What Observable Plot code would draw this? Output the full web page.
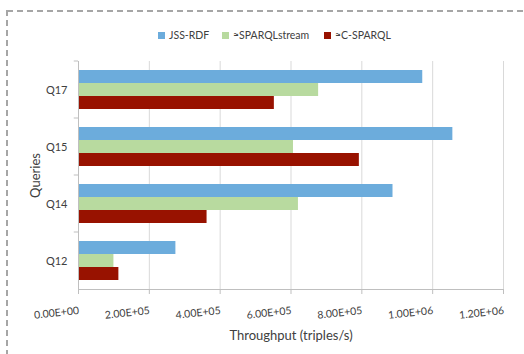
<!DOCTYPE html>
<html>
<head>
<meta charset="utf-8">
<script src="https://cdn.jsdelivr.net/npm/d3@7"></script>
<script src="https://cdn.jsdelivr.net/npm/@observablehq/plot@0.6"></script>
<style>
  html, body { margin: 0; padding: 0; background: #fff; }
  #wrap { position: relative; width: 524px; height: 354px; overflow: hidden; font-family: Lato, "Open Sans", sans-serif; color: #404040; }
  .dash-top { position: absolute; left: 7px; top: 10px; width: 517px; height: 2px;
    background: repeating-linear-gradient(to right, #a6a6a6 0 6px, transparent 6px 10px); }
  .dash-left { position: absolute; left: 6px; top: 10px; width: 2px; height: 344px;
    background: repeating-linear-gradient(to bottom, #a6a6a6 0 6px, transparent 6px 10px); }
  #legend { position: absolute; left: 0; top: 28px; width: 524px; height: 14px; font-size: 10.5px; line-height: 14px; }
  .item { position: absolute; top: 0; display: flex; align-items: center; white-space: nowrap; }
  .sw { width: 7px; height: 7px; margin-right: 4px; }
  #chart { position: absolute; left: 0; top: 50px; }
</style>
</head>
<body>
<div id="wrap">
  <div class="dash-top"></div>
  <div class="dash-left"></div>
  <div id="legend"></div>
  <div id="chart"></div>
</div>
<script>
const queries = ["Q17", "Q15", "Q14", "Q12"];
const series = ["JSS-RDF", "≈SPARQLstream", "≈C-SPARQL"];
const colors = ["#6cacdc", "#b8da9f", "#981200"];
const jssRdf       = [972000, 1057000, 888000, 275000];
const sparqlStream = [678000, 607000, 621000, 100000];
const cSparql      = [553000, 793000, 363000, 114000];
const xTicks = [0, 200000, 400000, 600000, 800000, 1000000, 1200000];
const xLabel = "Throughput (triples/s)";
const yLabel = "Queries";

const seriesValues = [jssRdf, sparqlStream, cSparql];
const data = [];
queries.forEach((q, i) => series.forEach((s, j) => data.push({query: q, series: s, value: seriesValues[j][i]})));

const fmt = d => {
  if (d === 0) return "0.00E+00";
  const e = Math.floor(Math.log10(d));
  const m = d / Math.pow(10, e);
  return m.toFixed(2) + "E+" + String(e).padStart(2, "0");
};

// legend
const legendLeft = [158, 222, 324];
const legend = document.getElementById("legend");
series.forEach((s, j) => {
  const it = document.createElement("div");
  it.className = "item";
  it.style.left = legendLeft[j] + "px";
  const sw = document.createElement("span");
  sw.className = "sw";
  sw.style.background = colors[j];
  const t = document.createElement("span");
  t.textContent = s;
  it.appendChild(sw); it.appendChild(t);
  legend.appendChild(it);
});

const axisColor = "#bfbfbf";

const chart = Plot.plot({
  width: 524,
  height: 304,
  marginTop: 10,
  marginBottom: 65,
  marginLeft: 78,
  marginRight: 21,
  style: {fontFamily: "Lato, 'Open Sans', sans-serif", fontSize: "10.5px", color: "#404040", background: "transparent", overflow: "visible"},
  x: {domain: [0, 1200000]},
  y: {domain: series, paddingInner: 0, paddingOuter: 0.65, axis: null},
  fy: {domain: queries, paddingInner: 0, paddingOuter: 0},
  color: {domain: series, range: colors},
  marks: [
    Plot.gridX(xTicks, {stroke: "#d9d9d9", strokeOpacity: 1}),
    Plot.barX(data, {x: "value", y: "series", fy: "query", fill: "series"}),
    Plot.rect(queries, {fy: d => d, x1: -12000, x2: 0, fill: "none", stroke: axisColor, strokeDasharray: "4.3 3000"}),
    Plot.frame({anchor: "left", facet: "super", stroke: axisColor}),
    Plot.frame({anchor: "bottom", facet: "super", stroke: axisColor}),
    Plot.axisX({ticks: xTicks, tickFormat: fmt, tickRotate: -6, tickSize: 5, tickPadding: 12, textAnchor: "end", stroke: axisColor, label: null}),
    Plot.axisFy({anchor: "left", tickSize: 0, tickPadding: 11, label: null, fontSize: 11}),
    Plot.text([yLabel], {facet: "super", frameAnchor: "left", textAnchor: "middle", lineAnchor: "middle", dx: -43, rotate: -90, fontSize: 13, fill: "#404040"}),
    Plot.text([xLabel], {facet: "super", frameAnchor: "bottom", textAnchor: "middle", lineAnchor: "middle", dy: 46, fontSize: 13, fill: "#404040"})
  ]
});
document.getElementById("chart").appendChild(chart);
</script>
</body>
</html>
